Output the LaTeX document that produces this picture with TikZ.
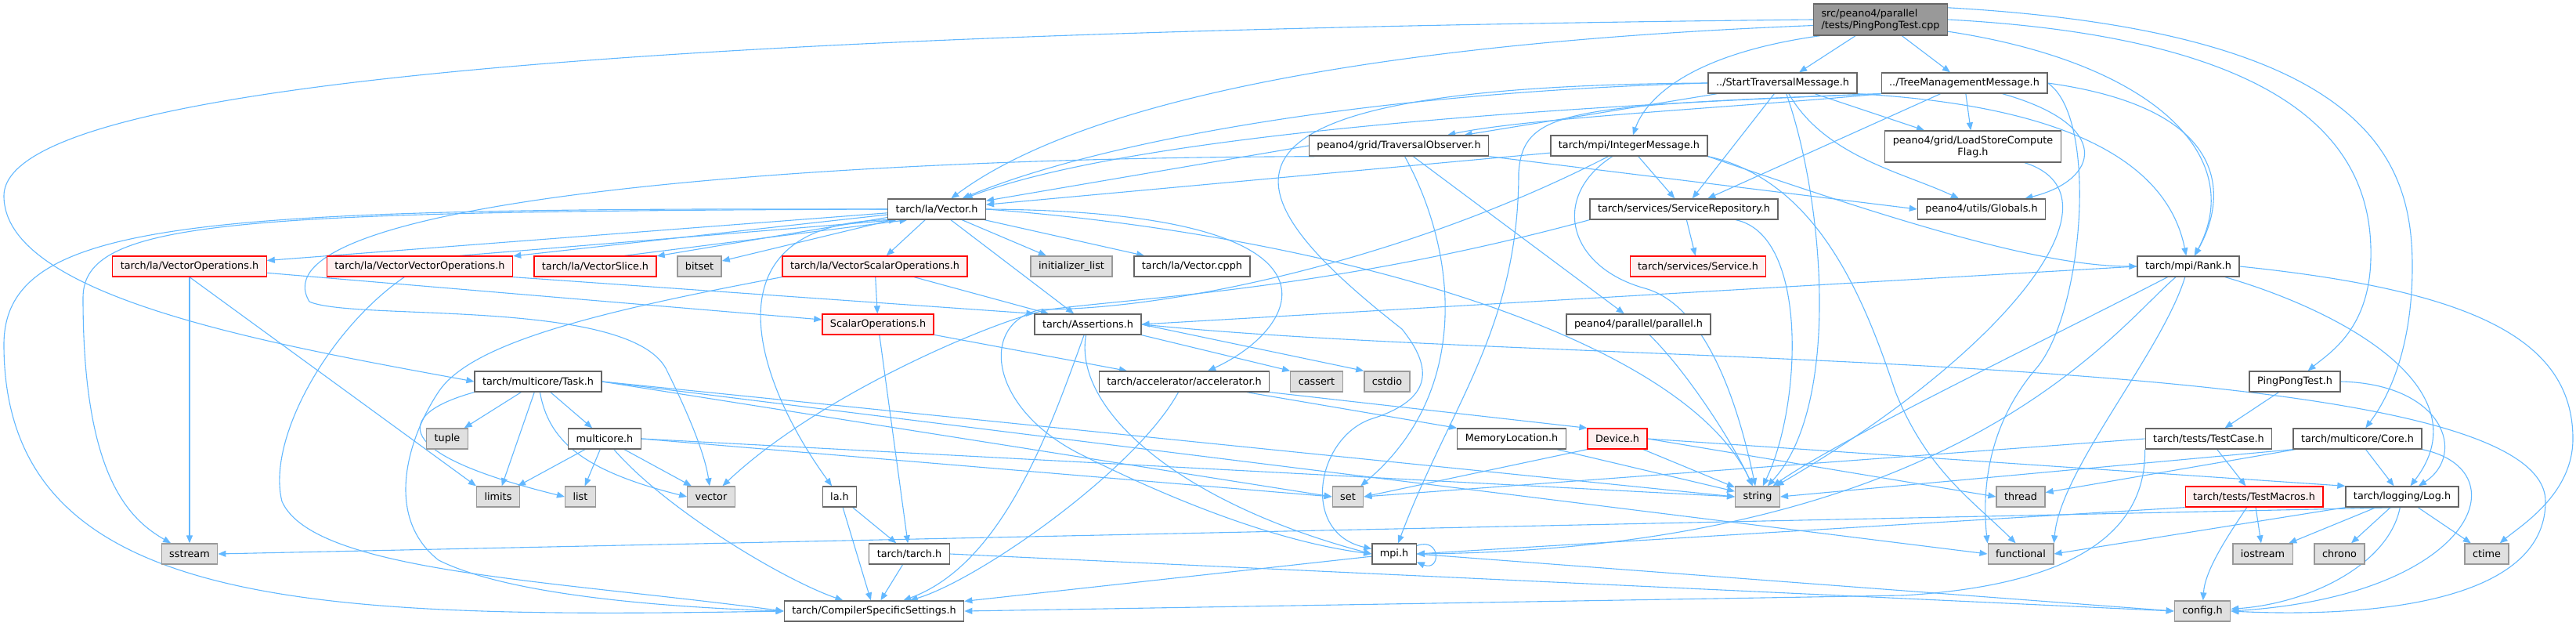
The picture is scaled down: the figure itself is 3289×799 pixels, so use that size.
\documentclass[tikz,border=0pt]{standalone}
\usepackage{fontspec}
\setmainfont{DejaVu Sans}
\usepackage{tikz}
\usetikzlibrary{arrows.meta, backgrounds}
\definecolor{edgeblue}{HTML}{63B8FF}

\begin{document}
\begin{tikzpicture}[
        x=1pt, y=-1pt,
        incl/.style={rectangle, draw=black!60, fill=white, line width=1.3pt, minimum height=26pt, inner xsep=10pt, inner ysep=3pt, font={\fontsize{12.8}{15}\selectfont}, align=center},
        stdlib/.style={incl, draw=black!40, fill=black!12},
        cutoff/.style={incl, draw=red, fill=red!6},
        mainfile/.style={incl, fill=black!40, align=left, minimum height=40pt},
        dep/.style={draw=edgeblue, line width=1.1pt, -{Triangle[length=10pt, width=8pt]}},
    ]
    \useasboundingbox (0,0) rectangle (3289,799);

    \node[mainfile] (root) at (2401,25) {src/peano4/parallel\\/tests/PingPongTest.cpp};
    \node[incl] (stm) at (2276,106) {../StartTraversalMessage.h};
    \node[incl] (tmm) at (2508,106) {../TreeManagementMessage.h};
    \node[incl] (tobs) at (1786,186) {peano4/grid/TraversalObserver.h};
    \node[incl] (intmsg) at (2080,186) {tarch/mpi/IntegerMessage.h};
    \node[incl, minimum height=40pt] (lscf) at (2519,187) {peano4/grid/LoadStoreCompute\\Flag.h};
    \node[incl] (vec) at (1196,267) {tarch/la/Vector.h};
    \node[incl] (srvrep) at (2150,267) {tarch/services/ServiceRepository.h};
    \node[incl] (glob) at (2530,267) {peano4/utils/Globals.h};
    \node[cutoff] (vops) at (242,340) {tarch/la/VectorOperations.h};
    \node[cutoff] (vvops) at (536,340) {tarch/la/VectorVectorOperations.h};
    \node[cutoff] (vslice) at (760,340) {tarch/la/VectorSlice.h};
    \node[stdlib] (bitset) at (893,340) {bitset};
    \node[cutoff] (vsops) at (1117,340) {tarch/la/VectorScalarOperations.h};
    \node[stdlib] (initl) at (1368,340) {initializer\_list};
    \node[incl] (vcpph) at (1522,340) {tarch/la/Vector.cpph};
    \node[cutoff] (service) at (2168,340) {tarch/services/Service.h};
    \node[incl] (rank) at (2794,340) {tarch/mpi/Rank.h};
    \node[cutoff] (scalops) at (1121,414) {ScalarOperations.h};
    \node[incl] (assert) at (1389,414) {tarch/Assertions.h};
    \node[incl] (parallel) at (2092,414) {peano4/parallel/parallel.h};
    \node[incl] (task) at (687,487) {tarch/multicore/Task.h};
    \node[incl] (accel) at (1512,487) {tarch/accelerator/accelerator.h};
    \node[stdlib] (cassert) at (1681,487) {cassert};
    \node[stdlib] (cstdio) at (1771,487) {cstdio};
    \node[incl] (pptesth) at (2930,487) {PingPongTest.h};
    \node[stdlib] (tuple) at (571,560) {tuple};
    \node[incl] (multicore) at (772,560) {multicore.h};
    \node[incl] (memloc) at (1930,560) {MemoryLocation.h};
    \node[cutoff] (device) at (2065,560) {Device.h};
    \node[incl] (testcase) at (2820,560) {tarch/tests/TestCase.h};
    \node[incl] (core) at (3010,560) {tarch/multicore/Core.h};
    \node[stdlib] (limits) at (636,634) {limits};
    \node[stdlib] (list) at (741,634) {list};
    \node[stdlib] (vector) at (908,634) {vector};
    \node[incl] (lah) at (1072,634) {la.h};
    \node[stdlib] (set) at (1721,634) {set};
    \node[stdlib] (string) at (2244,634) {string};
    \node[stdlib] (thread) at (2580,634) {thread};
    \node[cutoff] (testmacros) at (2878,634) {tarch/tests/TestMacros.h};
    \node[incl] (log) at (3067,634) {tarch/logging/Log.h};
    \node[stdlib] (sstream) at (242,707) {sstream};
    \node[incl] (tarchh) at (1161,707) {tarch/tarch.h};
    \node[incl] (mpih) at (1780,707) {mpi.h};
    \node[stdlib] (functional) at (2580,707) {functional};
    \node[stdlib] (iostream) at (2889,707) {iostream};
    \node[stdlib] (chrono) at (2987,707) {chrono};
    \node[stdlib] (ctime) at (3175,707) {ctime};
    \node[incl] (css) at (1116,780) {tarch/CompilerSpecificSettings.h};
    \node[stdlib] (config) at (2812,780) {config.h};

    \begin{scope}[on background layer]
    \draw[dep] (root) -- (stm);
    \draw[dep] (root) -- (tmm);
    \draw[dep] (root.195) .. controls (2150,70) and (2100,130) .. (intmsg);
    \draw[dep] (root.185) .. controls (1750,55) and (1380,130) .. (vec);
    \draw[dep] (root.west) .. controls (900,40) and (5,100) .. (5,250) .. controls (5,380) and (350,440) .. (task.west);
    \draw[dep] (root.-10) .. controls (2750,80) and (2870,200) .. (rank.60);
    \draw[dep] (root.east) .. controls (2950,50) and (3030,200) .. (3027,330) .. controls (3025,420) and (2975,450) .. (pptesth);
    \draw[dep] (root.10) .. controls (3020,40) and (3080,200) .. (3080,340) .. controls (3080,460) and (3040,520) .. (core);

    \draw[dep] (stm) -- (tobs);
    \draw[dep] (stm.west) .. controls (1700,120) and (1380,190) .. (vec);
    \draw[dep] (stm) -- (srvrep);
    \draw[dep] (stm) .. controls (2330,260) and (2350,520) .. (string);
    \draw[dep] (stm) .. controls (2330,200) and (2430,220) .. (glob);
    \draw[dep] (stm.south east) .. controls (2550,130) and (2760,170) .. (rank);
    \draw[dep] (stm) -- (lscf);
    \draw[dep] (stm.west) .. controls (1500,110) and (1560,240) .. (1790,420) .. controls (1830,470) and (1830,510) .. (1750,535) .. controls (1680,560) and (1660,680) .. (mpih);

    \draw[dep] (tmm.south west) .. controls (2250,135) and (1950,150) .. (tobs);
    \draw[dep] (tmm.south west) .. controls (2000,135) and (1450,170) .. (vec);
    \draw[dep] (tmm) -- (srvrep);
    \draw[dep] (tmm) -- (lscf);
    \draw[dep] (tmm) .. controls (2700,160) and (2680,230) .. (glob);
    \draw[dep] (tmm.east) .. controls (2680,150) and (2660,400) .. (2600,470) .. controls (2540,540) and (2530,620) .. (functional.north west);
    \draw[dep] (tmm.east) .. controls (2860,140) and (2840,260) .. (rank);
    \draw[dep] (tmm.south west) .. controls (2000,135) and (1945,140) .. (1939,220) .. controls (1939,420) and (1850,520) .. (mpih);

    \draw[dep] (tobs.west) -- (vec);
    \draw[dep] (tobs.south east) -- (glob.west);
    \draw[dep] (tobs) -- (parallel);
    \draw[dep] (tobs.190) .. controls (1000,200) and (320,260) .. (395,385) .. controls (450,410) and (800,380) .. (850,470) .. controls (880,530) and (900,580) .. (vector);
    \draw[dep] (tobs) .. controls (1860,320) and (1880,500) .. (set);

    \draw[dep] (intmsg) -- (vec);
    \draw[dep] (intmsg) -- (srvrep);
    \draw[dep] (intmsg.south east) .. controls (2400,275) and (2600,340) .. (rank.west);
    \draw[dep] (intmsg) .. controls (1980,250) and (2000,340) .. (2100,368) .. controls (2180,390) and (2220,520) .. (string);
    \draw[dep] (intmsg) .. controls (1800,330) and (1500,395) .. (1330,395) .. controls (1250,410) and (1260,520) .. (1380,580) .. controls (1480,630) and (1620,690) .. (mpih.west);
    \draw[dep] (intmsg.south east) .. controls (2320,230) and (2380,380) .. (2420,500) .. controls (2460,600) and (2520,640) .. (functional.115);

    \draw[dep] (lscf) .. controls (2720,250) and (2560,450) .. (string);

    \draw[dep] (vec) -- (vops);
    \draw[dep] (vec) -- (vvops);
    \draw[dep] (vec) -- (vslice);
    \draw[dep] (vec) -- (bitset);
    \draw[dep] (vec) -- (vsops);
    \draw[dep] (vec) -- (initl);
    \draw[dep] (vec) -- (vcpph);
    \draw[dep] (vec) -- (assert);
    \draw[dep] (vec.east) .. controls (1750,270) and (1660,420) .. (accel);
    \draw[dep] (vec.east) .. controls (1700,300) and (2150,430) .. (string);
    \draw[dep] (vec.south west) .. controls (900,285) and (960,480) .. (lah);
    \draw[dep] (vec.west) .. controls (300,270) and (106,280) .. (106,380) .. controls (106,600) and (160,660) .. (sstream);
    \draw[dep] (vec.west) .. controls (250,265) and (5,280) .. (5,440) .. controls (5,780) and (400,790) .. (css.west);
    \draw[dep] (vvops.15) -- (vec.195);
    \draw[dep] (vslice.20) -- (vec.200);

    \draw[dep] (vops) -- (sstream);
    \draw[dep] (vops.south) -- (limits.north west);
    \draw[dep] (vops) -- (scalops);

    \draw[dep] (vvops.south east) -- (assert.north west);
    \draw[dep] (vvops) .. controls (420,420) and (340,560) .. (360,640) .. controls (400,730) and (700,740) .. (css.west);

    \draw[dep] (vsops) -- (scalops);
    \draw[dep] (vsops) -- (assert);
    \draw[dep] (vsops.south west) .. controls (750,400) and (600,440) .. (560,500) .. controls (520,560) and (490,660) .. (560,715) .. controls (650,760) and (850,775) .. (css.west);

    \draw[dep] (srvrep) -- (service);
    \draw[dep] (srvrep) .. controls (2310,300) and (2300,520) .. (string);
    \draw[dep] (srvrep.south west) .. controls (1700,370) and (1450,380) .. (1340,395) .. controls (1280,405) and (1050,500) .. (vector);

    \draw[dep] (rank.west) -- (assert.east);
    \draw[dep] (rank) .. controls (2700,420) and (2500,700) .. (mpih.east);
    \draw[dep] (rank) .. controls (2760,450) and (2630,600) .. (functional.north east);
    \draw[dep] (rank) .. controls (3000,400) and (3170,500) .. (log);
    \draw[dep] (rank.east) .. controls (3150,370) and (3285,430) .. (3285,560) .. controls (3285,630) and (3220,670) .. (ctime);
    \draw[dep] (rank) .. controls (2600,440) and (2350,560) .. (string);

    \draw[dep] (scalops) -- (tarchh);
    \draw[dep] (scalops) -- (accel);

    \draw[dep] (assert.south east) -- (cassert.north west);
    \draw[dep] (assert.east) -- (cstdio.north west);
    \draw[dep] (assert) .. controls (1340,550) and (1280,720) .. (css);
    \draw[dep] (assert) .. controls (1370,520) and (1500,640) .. (mpih.west);
    \draw[dep] (assert.east) .. controls (2000,470) and (3250,440) .. (3250,640) .. controls (3250,790) and (2950,785) .. (config.east);

    \draw[dep] (parallel) .. controls (2150,470) and (2210,560) .. (string);

    \draw[dep] (task) -- (tuple);
    \draw[dep] (task) -- (limits);
    \draw[dep] (task) -- (multicore);
    \draw[dep] (task.south west) .. controls (500,530) and (500,580) .. (list.west);
    \draw[dep] (task) .. controls (700,560) and (740,600) .. (vector.west);
    \draw[dep] (task.east) -- (set.west);
    \draw[dep] (task.east) -- (string.west);
    \draw[dep] (task.east) -- (functional.west);

    \draw[dep] (multicore) -- (limits);
    \draw[dep] (multicore) -- (list);
    \draw[dep] (multicore) -- (vector);
    \draw[dep] (multicore) .. controls (850,650) and (1000,740) .. (css);
    \draw[dep] (multicore.east) -- (set.west);
    \draw[dep] (multicore.east) -- (string.west);

    \draw[dep] (accel) -- (memloc.north west);
    \draw[dep] (accel.south east) -- (device.north west);
    \draw[dep] (accel) .. controls (1450,600) and (1250,740) .. (css);

    \draw[dep] (memloc) -- (string);
    \draw[dep] (device.south west) -- (set.east);
    \draw[dep] (device) -- (string);
    \draw[dep] (device.east) -- (log.north west);
    \draw[dep] (device.east) -- (thread.west);

    \draw[dep] (pptesth) -- (testcase);
    \draw[dep] (pptesth.east) .. controls (3120,490) and (3150,580) .. (log);

    \draw[dep] (testcase) -- (testmacros);
    \draw[dep] (testcase.west) -- (set.east);
    \draw[dep] (testcase.south west) .. controls (2740,660) and (2680,745) .. (2430,760) -- (css.east);

    \draw[dep] (core) -- (thread);
    \draw[dep] (core) -- (log);
    \draw[dep] (core.south east) .. controls (3220,600) and (3160,760) .. (config.east);
    \draw[dep] (core.south west) -- (string.east);

    \draw[dep] (testmacros) -- (iostream);
    \draw[dep] (testmacros) .. controls (2840,690) and (2815,730) .. (config);
    \draw[dep] (testmacros.south west) -- (mpih.east);

    \draw[dep] (log) -- (iostream);
    \draw[dep] (log) -- (chrono);
    \draw[dep] (log) -- (ctime);
    \draw[dep] (log) .. controls (3050,720) and (2950,770) .. (config);
    \draw[dep] (log.south west) -- (functional.east);
    \draw[dep] (log.south) -- (sstream.east);

    \draw[dep] (lah) -- (tarchh);
    \draw[dep] (lah) -- (css);
    \draw[dep] (tarchh) -- (css);
    \draw[dep] (tarchh.east) -- (config.west);

    \draw[dep] (mpih.20) .. controls (1840,685) and (1840,730) .. (mpih.-20);
    \draw[dep] (mpih) -- (css);
    \draw[dep] (mpih.east) -- (config.west);
    \end{scope}
\end{tikzpicture}
\end{document}
